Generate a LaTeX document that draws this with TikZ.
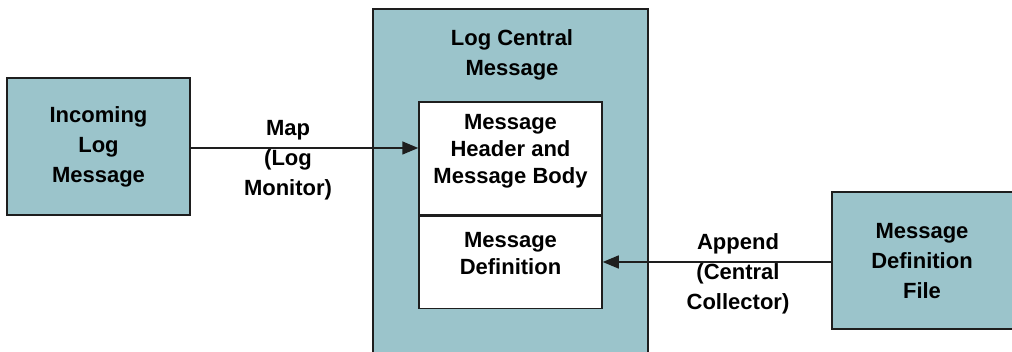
\documentclass[tikz,border=0pt]{standalone}
\usepackage{fontspec}
\setmainfont{Liberation Sans}
\usetikzlibrary{arrows.meta,positioning}

\definecolor{tealbox}{RGB}{155,196,203}
\definecolor{edgegray}{RGB}{30,30,30}

\begin{document}
\begin{tikzpicture}[
  x=1pt, y=1pt,
  font=\fontsize{22}{30}\selectfont\bfseries,
  >={Triangle[length=16pt,width=13pt]},
  block/.style={draw=edgegray, line width=1.5pt, fill=tealbox, align=center, inner sep=0pt},
  inbox/.style={draw=edgegray, line width=1.5pt, fill=white, minimum width=183pt, inner sep=0pt},
  arr/.style={->, line width=1.5pt, color=edgegray},
  lbl/.style={align=center, inner sep=0pt},
  tightlbl/.style={lbl, font=\fontsize{22}{27}\selectfont\bfseries}
]
\useasboundingbox (0,0) rectangle (1012,352);

% outer blocks
\node[block, minimum width=183pt, minimum height=137pt] (inlog) at (98.5,205.5) {Incoming\\Log\\Message};
\node[block, minimum width=275pt, minimum height=363pt] (central) at (510.5,161.5) {};
\node[lbl] (centraltxt) at (512,297) {Log Central\\Message};
\node[block, minimum width=200pt, minimum height=137pt] (msgfile) at (932,91.5) {};
\node[lbl] (msgfiletxt) at (922,91) {Message\\Definition\\File};

% inner parts of the central message
\node[inbox, minimum height=113pt] (header) at (510.5,193.5) {};
\node[inbox, minimum height=92pt, below=0pt of header] (msgdef) {};
\node[tightlbl] (headertxt) at ([yshift=7pt]header.center) {Message\\Header and\\Message Body};
\node[tightlbl] (msgdeftxt) at ([yshift=8.5pt]msgdef.center) {Message\\Definition};

% connectors
\draw[arr] (inlog.east |- 0,204) -- (header.west |- 0,204);
\draw[arr] (msgfile.west |- 0,90) -- (msgdef.east |- 0,90);
\node[lbl] (maplbl) at (288,192) {Map\\(Log\\Monitor)};
\node[lbl] (appendlbl) at (738,78) {Append\\(Central\\Collector)};

\end{tikzpicture}
\end{document}
